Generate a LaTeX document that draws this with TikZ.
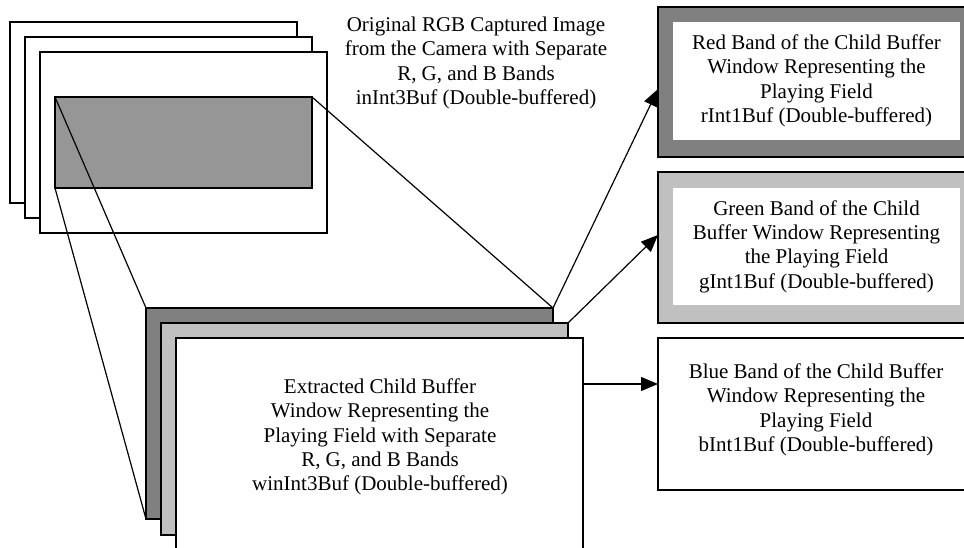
\documentclass[tikz,border=0pt]{standalone}
\usepackage{fontspec}
\setmainfont{Liberation Serif}
\usetikzlibrary{arrows.meta,calc}

\begin{document}
\begin{tikzpicture}[x=1pt, y=-1pt,
    frame/.style={draw=black, line width=1.3pt, fill=white, anchor=north west, inner sep=0pt, outer sep=0pt},
    inner/.style={fill=white, anchor=north west, inner sep=0pt, outer sep=0pt, align=center, font=\fontsize{21}{24.4}\selectfont},
    caption/.style={align=center, font=\fontsize{21}{24.4}\selectfont, inner sep=0pt},
    link/.style={line width=1.2pt},
    arrowlink/.style={line width=1.2pt, -{Triangle[length=17pt,width=14pt]}}]
    \definecolor{darkBand}{HTML}{808080}
    \definecolor{lightBand}{HTML}{C0C0C0}
    \definecolor{cropColour}{HTML}{969696}

    % Page size
    \useasboundingbox (0,0) rectangle (964,548);
    \clip (0,0) rectangle (964,548);

    % Captured image stack
    \foreach \i in {0,1,2}
        \node[frame, minimum width=287pt, minimum height=181pt] (cam\i) at (10+15*\i, 22+15*\i) {};
    \node[frame, fill=cropColour, minimum width=257pt, minimum height=91pt] (crop) at (55,97) {};
    \node[caption] (camText) at (476,63) {Original RGB Captured Image\\from the Camera with Separate\\R, G, and B Bands\\inInt3Buf (Double-buffered)};

    % Child buffer window stack
    \node[frame, fill=darkBand, minimum width=407pt, minimum height=211pt] (winR) at (146,308) {};
    \node[frame, fill=lightBand, minimum width=407pt, minimum height=212pt] (winG) at (161,323) {};
    \node[frame, minimum width=407pt, minimum height=240pt] (winB) at (176,338) {};
    \node[caption] (winText) at (380,437) {Extracted Child Buffer\\Window Representing the\\Playing Field with Separate\\R, G, and B Bands\\winInt3Buf (Double-buffered)};

    % Projection lines
    \draw[link] (crop.north west) -- (winR.north west);
    \draw[link] (crop.south west) -- (winR.south west);
    \draw[link] (crop.north east) -- (winR.north east);

    % Band buffers
    \node[frame, fill=darkBand, minimum width=317pt, minimum height=150pt] (red) at (658,7) {};
    \node[inner, minimum width=287pt, minimum height=118pt] (redIn) at (673,22) {Red Band of the Child Buffer\\Window Representing the\\Playing Field\\rInt1Buf (Double-buffered)};
    \node[frame, fill=lightBand, minimum width=317pt, minimum height=151pt] (green) at (658,172) {};
    \node[inner, minimum width=287pt, minimum height=117pt] (greenIn) at (673,188) {Green Band of the Child\\Buffer Window Representing\\the Playing Field\\gInt1Buf (Double-buffered)};
    \node[frame, minimum width=317pt, minimum height=152pt] (blue) at (658,338) {};
    \node[caption] (blueText) at (816,410) {Blue Band of the Child Buffer\\Window Representing the\\Playing Field\\bInt1Buf (Double-buffered)};

    % Arrows to the bands
    \draw[arrowlink] (winR.north east) -- ($(red.north west)!0.547!(red.south west)$);
    \draw[arrowlink] (winG.north east) -- ($(green.north west)!0.417!(green.south west)$);
    \coordinate (bStart) at ($(winB.north east)+(0,46)$);
    \draw[arrowlink] (bStart) -- (bStart -| blue.west);

\end{tikzpicture}
\end{document}
